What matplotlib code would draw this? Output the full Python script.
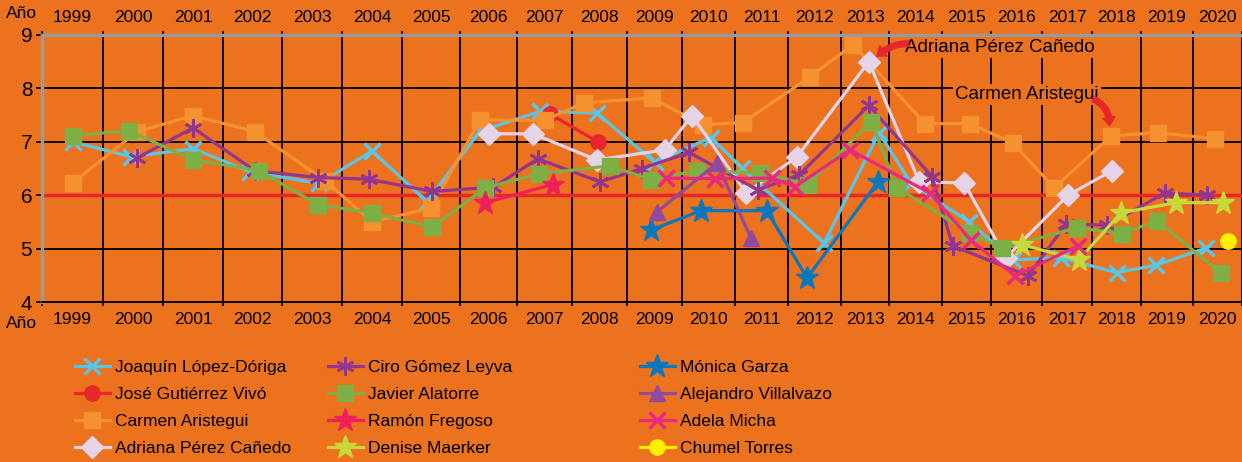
import numpy as np
import matplotlib.pyplot as plt

plt.rcParams["font.family"] = ["Liberation Sans Narrow", "Liberation Sans", "DejaVu Sans"]

# ---------------------------------------------------------------
# Data (x = year, with the small offsets used in the original chart)
# ---------------------------------------------------------------
years = list(range(1999, 2021))

lopez_x = [1999.0, 1999.97, 2001.0, 2001.96, 2003.12, 2004.0, 2004.93, 2005.85, 2006.92, 2007.95, 2009.0,
           2010.05, 2010.63, 2012.18, 2013.29, 2013.92, 2015.05, 2015.93, 2016.88, 2018.0, 2018.79, 2019.77]
lopez_y = [7.0, 6.72, 6.87, 6.44, 6.22, 6.83, 5.88, 7.2, 7.57, 7.54, 6.62,
           7.08, 6.51, 5.1, 7.17, 6.22, 5.5, 4.79, 4.83, 4.55, 4.69, 5.01]

vivo_x = [2007.1, 2007.97]
vivo_y = [7.52, 7.0]

aristegui_x = [1999.0, 2000.07, 2001.0, 2002.04, 2003.22, 2004.0, 2005.0, 2005.85, 2007.0, 2007.72, 2008.95,
               2009.9, 2010.65, 2011.92, 2012.75, 2014.18, 2015.07, 2015.93, 2016.74, 2017.89, 2018.83, 2019.95]
aristegui_y = [6.23, 7.19, 7.49, 7.19, 6.27, 5.5, 5.76, 7.41, 7.4, 7.73, 7.82,
               7.32, 7.36, 8.22, 8.82, 7.34, 7.34, 6.98, 6.14, 7.11, 7.17, 7.06]

perez_x = [2006.0, 2006.79, 2007.95, 2009.19, 2009.69, 2010.71, 2011.67, 2013.08, 2014.07, 2014.95,
           2015.79, 2017.02, 2017.91]
perez_y = [7.15, 7.15, 6.66, 6.85, 7.49, 6.04, 6.72, 8.5, 6.25, 6.23, 4.83, 6.0, 6.46]

gomez_x = [2000.07, 2001.0, 2002.04, 2003.1, 2003.95, 2005.02, 2006.08, 2006.88, 2008.01, 2008.77,
           2009.63, 2010.93, 2011.71, 2013.08, 2014.31, 2014.72, 2016.23, 2016.98, 2017.81, 2018.96, 2019.79]
gomez_y = [6.7, 7.26, 6.46, 6.33, 6.3, 6.07, 6.15, 6.68, 6.25, 6.5,
           6.8, 6.1, 6.38, 7.68, 6.35, 5.05, 4.49, 5.46, 5.44, 6.04, 6.0]

alatorre_x = [1999.0, 1999.93, 2001.0, 2002.11, 2003.1, 2004.0, 2005.02, 2005.94, 2006.9, 2008.19, 2008.94,
              2009.78, 2010.97, 2011.88, 2013.13, 2013.65, 2015.07, 2015.72, 2017.2, 2018.11, 2018.81, 2020.07]
alatorre_y = [7.11, 7.21, 6.66, 6.46, 5.82, 5.67, 5.4, 6.14, 6.4, 6.55, 6.29,
              6.46, 6.42, 6.2, 7.38, 6.14, 5.29, 5.01, 5.39, 5.28, 5.52, 4.54]

fregoso_x = [2005.94, 2007.15]
fregoso_y = [5.86, 6.2]

maerker_x = [2016.11, 2017.24, 2018.09, 2019.17, 2020.11]
maerker_y = [5.07, 4.79, 5.67, 5.86, 5.86]

garza_x = [2008.94, 2009.86, 2011.1, 2011.86, 2013.27]
garza_y = [5.35, 5.71, 5.71, 4.45, 6.25]

villalvazo_x = [2009.05, 2010.16, 2010.8]
villalvazo_y = [5.69, 6.6, 5.2]

micha_x = [2009.21, 2010.12, 2011.2, 2011.63, 2012.69, 2014.27, 2015.09, 2015.97, 2017.22]
micha_y = [6.32, 6.31, 6.32, 6.16, 6.85, 6.04, 5.16, 4.49, 5.05]

torres_x = [2020.21]
torres_y = [5.14]

# relative widths of the year cells (the original grid is not uniform)
cell_widths = [61, 60, 60, 59, 60, 60, 58, 57, 55, 55, 55, 53, 53, 53, 48, 53, 49, 51, 50, 49, 52, 49]

BG = "#EC721E"
RED = "#E8262C"

series = [
    ("Joaquín López-Dóriga", lopez_x, lopez_y, "#5BC5E6", "x", 11, 2.5),
    ("José Gutiérrez Vivó", vivo_x, vivo_y, "#E8262C", "o", 11, 1),
    ("Carmen Aristegui", aristegui_x, aristegui_y, "#F5922F", "s", 12, 1),
    ("Adriana Pérez Cañedo", perez_x, perez_y, "#E5D4E8", "D", 11, 1),
    ("Ciro Gómez Leyva", gomez_x, gomez_y, "#94368E", (6, 2, 0), 13, 2),
    ("Javier Alatorre", alatorre_x, alatorre_y, "#7DAF45", "s", 12, 1),
    ("Ramón Fregoso", fregoso_x, fregoso_y, "#EE1F5A", "*", 17, 1),
    ("Denise Maerker", maerker_x, maerker_y, "#C6D83A", "*", 17, 1),
    ("Mónica Garza", garza_x, garza_y, "#0A77BD", "*", 17, 1),
    ("Alejandro Villalvazo", villalvazo_x, villalvazo_y, "#8E4B9F", "^", 12, 1),
    ("Adela Micha", micha_x, micha_y, "#E8297E", "x", 11, 2.5),
    ("Chumel Torres", torres_x, torres_y, "#FFF000", "o", 11, 1),
]

fig = plt.figure(figsize=(12.42, 4.62), dpi=100, facecolor=BG)
ax = fig.add_axes([42 / 1242, 1 - 302 / 462, 1200 / 1242, 267 / 462], facecolor=BG)

edge_years = np.arange(1998.5, 2021.0, 1.0)
edge_pos = np.concatenate([[0], np.cumsum(cell_widths)]).astype(float)


def forward(x):
    return np.interp(x, edge_years, edge_pos)


def inverse(p):
    return np.interp(p, edge_pos, edge_years)


ax.set_xscale("function", functions=(forward, inverse))
ax.set_xlim(1998.5, 2020.5)
ax.set_ylim(4, 9)

handles = []
for name, xs, ys, color, marker, ms, mew in series:
    (ln,) = ax.plot(xs, ys, color=color, lw=2.3, marker=marker, ms=ms,
                    markerfacecolor=color, markeredgecolor=color, markeredgewidth=mew,
                    label=name, zorder=3, clip_on=False)
    handles.append(ln)

ax.axhline(6, color=RED, lw=2.5, zorder=2)

# grid and ticks
ax.set_xticks(years)
ax.set_xticks(edge_years, minor=True)
ax.set_yticks(range(4, 10))
ax.tick_params(axis="x", which="major", length=0, labeltop=True, labelbottom=True,
               labelsize=12.5, pad=7)
ax.tick_params(axis="x", which="minor", length=3, top=True, bottom=True, width=1.3, color="black")
ax.tick_params(axis="y", length=4, width=1.3, color="black", labelsize=15, pad=3)
ax.grid(True, which="minor", axis="x", color="black", lw=1.3)
ax.grid(True, which="major", axis="y", color="black", lw=1.3)
ax.set_axisbelow(True)

ax.spines["right"].set_visible(False)
ax.spines["top"].set_color("#9A9A9A")
ax.spines["top"].set_linewidth(2.5)
ax.spines["left"].set_color("#9A9A9A")
ax.spines["left"].set_linewidth(2.5)
ax.spines["bottom"].set_color("black")
ax.spines["bottom"].set_linewidth(1.3)

ax.text(-0.017, 1.079, "Año", transform=ax.transAxes, ha="center", va="center", fontsize=12.5)
ax.text(-0.017, -0.079, "Año", transform=ax.transAxes, ha="center", va="center", fontsize=12.5)

# annotations: text with an orange box, then a curved red arrow
arrow_style = "simple,head_width=0.9,head_length=0.6,tail_width=0.4"
ax.text(2013.8, 8.76, "Adriana Pérez Cañedo", fontsize=13.5, ha="left", va="center", zorder=5,
        bbox=dict(boxstyle="square,pad=0.1", fc=BG, ec="none"))
ax.annotate("", xy=(2013.25, 8.6), xytext=(2013.86, 8.84), zorder=5,
            arrowprops=dict(arrowstyle=arrow_style, color=RED,
                            connectionstyle="arc3,rad=0.2", shrinkA=0, shrinkB=0))
ax.text(2014.77, 7.88, "Carmen Aristegui", fontsize=13.5, ha="left", va="center", zorder=5,
        bbox=dict(boxstyle="square,pad=0.1", fc=BG, ec="none"))
ax.annotate("", xy=(2017.85, 7.3), xytext=(2017.52, 7.8), zorder=5,
            arrowprops=dict(arrowstyle=arrow_style, color=RED,
                            connectionstyle="arc3,rad=-0.35", shrinkA=0, shrinkB=0))

# legend in three columns
col_x = [75 / 1242, 328 / 1242, 640 / 1242]
for i, cx in enumerate(col_x):
    fig.legend(handles=handles[i * 4:(i + 1) * 4], loc="upper left", bbox_to_anchor=(cx, 1 - 360 / 462),
               frameon=False, fontsize=12.5, borderpad=0, borderaxespad=0, handlelength=2.0,
               handletextpad=0.3, labelspacing=0.68)

fig.savefig("out.png", dpi=100, facecolor=BG)
